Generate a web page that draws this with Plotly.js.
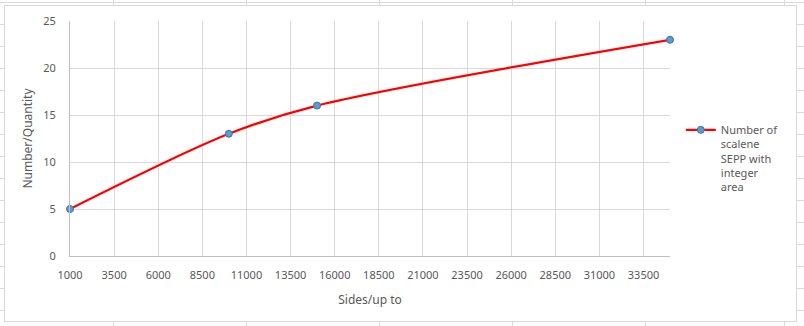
<!DOCTYPE html>
<html><head><meta charset="utf-8">
<script src="https://cdn.plot.ly/plotly-3.0.1.min.js"></script>
<style>
html,body{margin:0;padding:0;width:804px;height:326px;overflow:hidden;background:#fff;}
#sheet{position:absolute;left:0;top:0;width:804px;height:326px;
 background-image:
  repeating-linear-gradient(to bottom, transparent 0px, transparent 2px, #dadada 2px, #dadada 3px, transparent 3px, transparent 22px),
  repeating-linear-gradient(to right, transparent 0px, transparent 113px, #dadada 113px, #dadada 114px, transparent 114px, transparent 133px);
 background-position:0 0, -133px 0;}
#frame{position:absolute;left:4px;top:5px;width:791px;height:315px;background:#fff;border:1px solid #d9d9d9;}
#chart{position:absolute;left:0;top:0;width:804px;height:326px;}
</style></head>
<body>
<div id="sheet"></div>
<div id="frame"></div>
<div id="chart"></div>
<script>
const sides = [1000, 10000, 15000, 35000];
const counts = [5, 13, 16, 23];
const seriesName = "Number of<br>scalene<br>SEPP with<br>integer<br>area";
const xTickStart = 1000, xTickStep = 2500;
const yTickStep = 5;

const font = "Noto Sans, Open Sans, sans-serif";
const trace = {
  x: sides, y: counts, type: 'scatter', mode: 'lines+markers',
  name: seriesName,
  line: {color: '#ff0000', width: 2.25, shape: 'spline', smoothing: 0.9},
  marker: {color: '#5b9bd5', size: 7, line: {color: '#41719c', width: 1}},
  cliponaxis: false
};
const layout = {
  width: 804, height: 326,
  margin: {l: 70, r: 134, t: 21, b: 70},
  paper_bgcolor: 'rgba(0,0,0,0)', plot_bgcolor: 'rgba(0,0,0,0)',
  font: {family: font, size: 11, color: '#595959'},
  showlegend: true,
  legend: {x: 1.018, xanchor: 'left', y: 0.595, yanchor: 'top', valign: 'top',
    font: {family: font, size: 11, color: '#595959'}, bgcolor: 'rgba(0,0,0,0)', tracegroupgap: 0},
  xaxis: {
    range: [1000, 35000], tick0: xTickStart, dtick: xTickStep, tickmode: 'linear',
    tickformat: 'd',
    showgrid: true, gridcolor: '#d9d9d9', gridwidth: 1,
    showline: true, linecolor: '#bfbfbf', linewidth: 1,
    zeroline: false, ticks: 'outside', ticklen: 9, tickcolor: 'rgba(0,0,0,0)',
    tickfont: {family: font, size: 11, color: '#595959'},
    title: {text: 'Sides/up to', font: {family: font, size: 12, color: '#595959'}, standoff: 14}
  },
  yaxis: {
    range: [0, 25], dtick: yTickStep, tick0: 0, tickmode: 'linear',
    showgrid: true, gridcolor: '#d9d9d9', gridwidth: 1,
    showline: true, linecolor: '#bfbfbf', linewidth: 1,
    zeroline: false, ticks: 'outside', ticklen: 11, tickcolor: 'rgba(0,0,0,0)',
    tickfont: {family: font, size: 11, color: '#595959'},
    title: {text: 'Number/Quantity', font: {family: font, size: 12, color: '#595959'}, standoff: 8}
  }
};
Plotly.newPlot('chart', [trace], layout, {displayModeBar: false, staticPlot: true});
</script>
</body></html>
